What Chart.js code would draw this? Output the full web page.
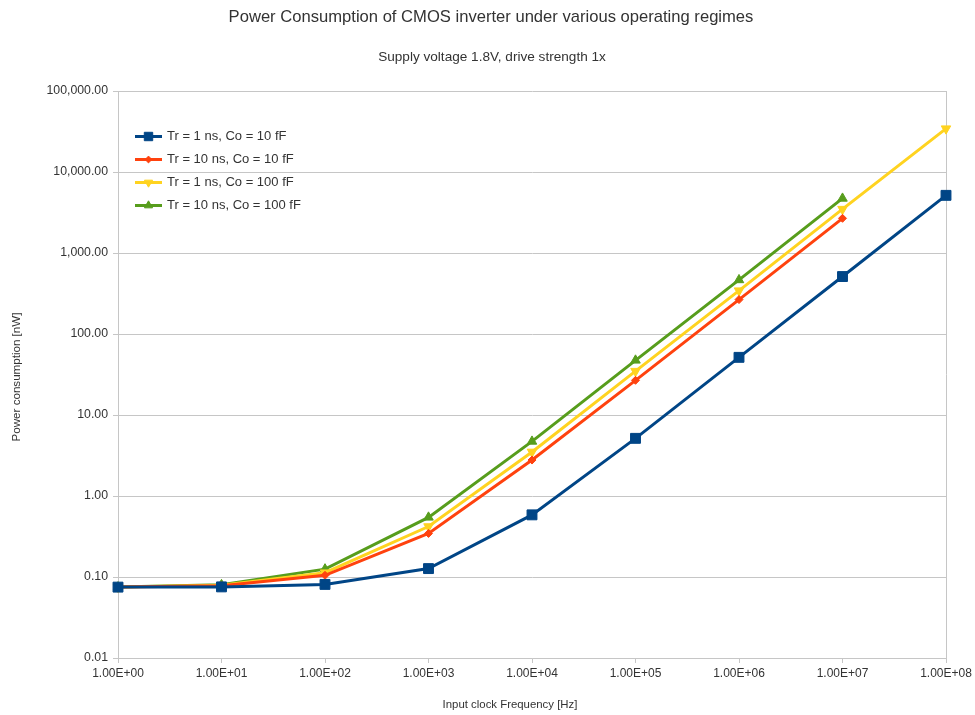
<!DOCTYPE html>
<html>
<head>
<meta charset="utf-8">
<title>CMOS inverter power consumption</title>
<script src="https://cdn.jsdelivr.net/npm/chart.js@4/dist/chart.umd.min.js"></script>
<style>
  html, body { margin: 0; padding: 0; background: #ffffff; }
  #wrap { width: 975px; height: 715px; }
</style>
</head>
<body>
<div id="wrap"><canvas id="chart" width="975" height="715"></canvas></div>
<script>
// Input clock frequencies (Hz), one category per decade
const frequencies = ['1.00E+00', '1.00E+01', '1.00E+02', '1.00E+03', '1.00E+04',
                     '1.00E+05', '1.00E+06', '1.00E+07', '1.00E+08'];

// Power consumption in nW for each operating regime
const tr1Co10   = [0.075, 0.0755, 0.081, 0.127, 0.585, 5.15, 51.5, 512, 5150];
const tr10Co10  = [0.075, 0.078, 0.105, 0.345, 2.78, 26.8, 266, 2680, null];
const tr1Co100  = [0.075, 0.079, 0.113, 0.42, 3.5, 34.8, 343, 3480, 34300];
const tr10Co100 = [0.075, 0.080, 0.125, 0.545, 4.72, 47.3, 465, 4720, null];

// Decade ticks of the power axis
const powerTicks = [0.01, 0.1, 1, 10, 100, 1000, 10000, 100000];

const seriesLabels = ['Tr = 1 ns, Co = 10 fF', 'Tr = 10 ns, Co = 10 fF',
                      'Tr = 1 ns, Co = 100 fF', 'Tr = 10 ns, Co = 100 fF'];

const chartTitle = 'Power Consumption of CMOS inverter under various operating regimes';
const chartSubtitle = 'Supply voltage 1.8V, drive strength 1x';
const xTitle = 'Input clock Frequency [Hz]';
const yTitle = 'Power consumption [nW]';

const FONT = '"Liberation Sans", Arial, sans-serif';
const GRID = '#c6c6c6';
const TEXT = '#333333';

function series(label, data, color, style, radius, rotation) {
  return {
    label: label,
    data: data,
    borderColor: color,
    backgroundColor: color,
    borderWidth: 3,
    pointStyle: style,
    pointRadius: radius,
    pointHoverRadius: radius,
    pointRotation: rotation,
    pointBorderWidth: 1,
    pointBorderColor: color,
    tension: 0,
    spanGaps: false
  };
}

// Titles and axis captions placed on the page like the office-suite layout
const captions = {
  id: 'captions',
  afterDraw(chart) {
    const ctx = chart.ctx;
    ctx.save();
    ctx.fillStyle = TEXT;
    ctx.textAlign = 'center';
    ctx.textBaseline = 'middle';
    ctx.font = '16.6px ' + FONT;
    ctx.fillText(chartTitle, 491, 17);
    ctx.font = '13.6px ' + FONT;
    ctx.fillText(chartSubtitle, 492, 57);
    ctx.font = '11.4px ' + FONT;
    ctx.fillText(xTitle, 510, 705);
    ctx.translate(17, 377);
    ctx.rotate(-Math.PI / 2);
    ctx.font = '11.6px ' + FONT;
    ctx.fillText(yTitle, 0, 0);
    ctx.restore();
  }
};

// Legend box drawn inside the plot area, top-left
const innerLegend = {
  id: 'innerLegend',
  afterDraw(chart) {
    const ctx = chart.ctx;
    const x0 = 135, x1 = 162, xm = 148.5, tx = 167;
    const y0 = 136.5, step = 23;
    ctx.save();
    ctx.font = '13px ' + FONT;
    ctx.textBaseline = 'middle';
    ctx.textAlign = 'left';
    chart.data.datasets.forEach((ds, i) => {
      const y = y0 + i * step;
      ctx.strokeStyle = ds.borderColor;
      ctx.lineWidth = 3;
      ctx.beginPath();
      ctx.moveTo(x0, y);
      ctx.lineTo(x1, y);
      ctx.stroke();
      ctx.lineWidth = 1;
      ctx.fillStyle = ds.backgroundColor;
      ctx.strokeStyle = ds.borderColor;
      Chart.helpers.drawPoint(ctx, {
        pointStyle: ds.pointStyle,
        rotation: ds.pointRotation,
        radius: ds.pointRadius * 0.85,
        borderWidth: 1
      }, xm, y);
      ctx.fillStyle = TEXT;
      ctx.fillText(ds.label, tx, y);
    });
    ctx.restore();
  }
};

const lastIndex = frequencies.length - 1;

new Chart(document.getElementById('chart'), {
  type: 'line',
  data: {
    labels: frequencies,
    datasets: [
      series(seriesLabels[0], tr1Co10,   '#004586', 'rect',     7,   0),
      series(seriesLabels[1], tr10Co10,  '#ff420e', 'rectRot',  4,   0),
      series(seriesLabels[2], tr1Co100,  '#ffd320', 'triangle', 5.5, 180),
      series(seriesLabels[3], tr10Co100, '#579d1c', 'triangle', 5.5, 0)
    ]
  },
  options: {
    responsive: false,
    animation: false,
    devicePixelRatio: 1,
    layout: { padding: { left: 0, right: 29, top: 91, bottom: 0 } },
    plugins: {
      legend: { display: false },
      tooltip: { enabled: false },
      title: { display: false },
      subtitle: { display: false }
    },
    scales: {
      x: {
        type: 'category',
        offset: false,
        afterFit(scale) { scale.height = 57; },
        grid: {
          display: true,
          drawOnChartArea: true,
          color: (c) => (c.index === lastIndex ? GRID : 'rgba(0,0,0,0)'),
          tickColor: GRID,
          tickLength: 5,
          lineWidth: 1
        },
        border: { display: true, color: GRID, width: 1 },
        ticks: {
          color: TEXT,
          font: { family: FONT, size: 12 },
          padding: 3,
          maxRotation: 0,
          autoSkip: false
        },
        title: { display: false }
      },
      y: {
        type: 'logarithmic',
        min: 0.01,
        max: 100000,
        afterFit(scale) { scale.width = 118; },
        afterBuildTicks(scale) {
          scale.ticks = powerTicks.map(v => ({ value: v }));
        },
        grid: {
          color: GRID,
          tickColor: GRID,
          tickLength: 5,
          lineWidth: 1
        },
        border: { display: true, color: GRID, width: 1 },
        ticks: {
          color: TEXT,
          font: { family: FONT, size: 12.3 },
          padding: 5,
          callback: (v) => Number(v).toLocaleString('en-US', {
            minimumFractionDigits: 2, maximumFractionDigits: 2 })
        },
        title: { display: false }
      }
    }
  },
  plugins: [captions, innerLegend]
});
</script>
</body>
</html>
